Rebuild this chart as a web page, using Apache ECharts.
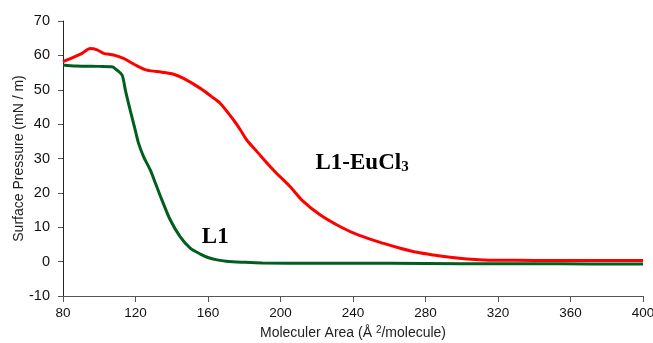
<!DOCTYPE html>
<html><head><meta charset="utf-8">
<script src="https://cdn.jsdelivr.net/npm/echarts@6/dist/echarts.min.js"></script>
<style>html,body{margin:0;padding:0;background:#fff}#c{width:653px;height:343px}</style>
</head><body><div id="c"></div>
<script>
// L1 isotherm
const l1X = [80, 87, 100, 107, 109.8, 112.6, 114.4, 117.1, 119.9, 121.7, 124.5, 128.2, 131, 134.6, 139.2, 144.7, 150.2, 155.8, 160, 165, 170, 180, 190, 220, 260, 300, 340, 370, 400];
const l1Y = [57.2, 56.9, 56.8, 56.7, 55.7, 54.3, 49.9, 44, 38.2, 34.4, 30.5, 26.6, 22.8, 17.9, 12.1, 7.2, 3.9, 2.2, 1.2, 0.5, 0.1, -0.2, -0.4, -0.5, -0.5, -0.6, -0.6, -0.7, -0.7];
// L1-EuCl3 isotherm
const euX = [80, 85, 90.5, 95.1, 98.8, 102.4, 107.9, 113.4, 119.9, 126.3, 134.6, 141, 146.5, 155.8, 162, 166.8, 174.1, 177.9, 181.5, 187, 196.2, 205.5, 212.4, 222, 233, 243.1, 256.9, 266.1, 275.3, 284.5, 293.7, 302.9, 312, 321, 340, 370, 400];
const euY = [58.2, 59.3, 60.6, 62.0, 61.6, 60.6, 60.1, 59.1, 57.2, 55.7, 55.1, 54.5, 53.3, 50.4, 48, 46, 41.2, 38.3, 35.3, 32, 26.6, 21.7, 17.6, 13.55, 10.15, 7.7, 5.3, 3.9, 2.7, 1.9, 1.25, 0.75, 0.47, 0.4, 0.35, 0.3, 0.3];
// annotations
const labelL1 = {text: 'L1', x: 164, y: 7.2};
const labelEu = {text: 'L1-EuCl', sub: '3', x: 245, y: 28.8};
// axis ticks
const xMin = 80, xMax = 400, xStep = 40;
const yMin = -10, yMax = 70, yStep = 10;

const zip = (a, b) => a.map((v, i) => [v, b[i]]);
const chart = echarts.init(document.getElementById('c'));
chart.setOption({
  animation: false,
  backgroundColor: '#fff',
  grid: {left: 63, right: 10, top: 21, bottom: 47, containLabel: false, outerBoundsMode: 'none'},
  xAxis: {
    type: 'value', min: xMin, max: xMax, interval: xStep,
    name: 'Moleculer Area (Å {s|2}/molecule)', nameLocation: 'middle', nameGap: 29, nameMoveOverlap: false,
    nameTextStyle: {fontFamily: 'Liberation Sans', fontSize: 14, color: '#222',
      rich: {s: {fontFamily: 'Liberation Sans', fontSize: 10, color: '#222', verticalAlign: 'top', padding: [0,0,6,0]}}},
    axisLine: {onZero: false, lineStyle: {color: '#555', width: 1}},
    axisTick: {length: 6, lineStyle: {color: '#555'}},
    axisLabel: {fontFamily: 'Liberation Sans', fontSize: 13.5, color: '#111', margin: 10},
    splitLine: {show: false}
  },
  yAxis: {
    type: 'value', min: yMin, max: yMax, interval: yStep,
    name: 'Surface Pressure (mN / m)', nameLocation: 'middle', nameGap: 37, nameMoveOverlap: false,
    nameTextStyle: {fontFamily: 'Liberation Sans', fontSize: 14, color: '#222'},
    axisLine: {show: true, lineStyle: {color: '#222', width: 1}},
    axisTick: {show: true, length: 5, lineStyle: {color: '#555'}},
    axisLabel: {fontFamily: 'Liberation Sans', fontSize: 14.5, color: '#111', margin: 13},
    splitLine: {show: false}
  },
  series: [
    {
      type: 'line', data: zip(euX, euY), showSymbol: false, smooth: 0.3,
      lineStyle: {color: '#ff0000', width: 3}, z: 2,
      markPoint: {
        symbol: 'circle', symbolSize: 0,
        data: [{coord: [labelEu.x, labelEu.y], value: 0}],
        label: {show: true, position: 'inside',
          formatter: '{a|' + labelEu.text + '}{b|' + labelEu.sub + '}',
          rich: {
            a: {fontFamily: 'Liberation Serif', fontWeight: 'bold', fontSize: 23, color: '#000'},
            b: {fontFamily: 'Liberation Serif', fontWeight: 'bold', fontSize: 15, color: '#000', verticalAlign: 'bottom', padding: [6,0,0,0]}
          }}
      }
    },
    {
      type: 'line', data: zip(l1X, l1Y), showSymbol: false, smooth: 0.3,
      lineStyle: {color: '#005f1e', width: 3}, z: 3,
      markPoint: {
        symbol: 'circle', symbolSize: 0,
        data: [{coord: [labelL1.x, labelL1.y], value: 0}],
        label: {show: true, position: 'inside', formatter: labelL1.text,
          fontFamily: 'Liberation Serif', fontWeight: 'bold', fontSize: 23, color: '#000'}
      }
    }
  ]
});
</script></body></html>
